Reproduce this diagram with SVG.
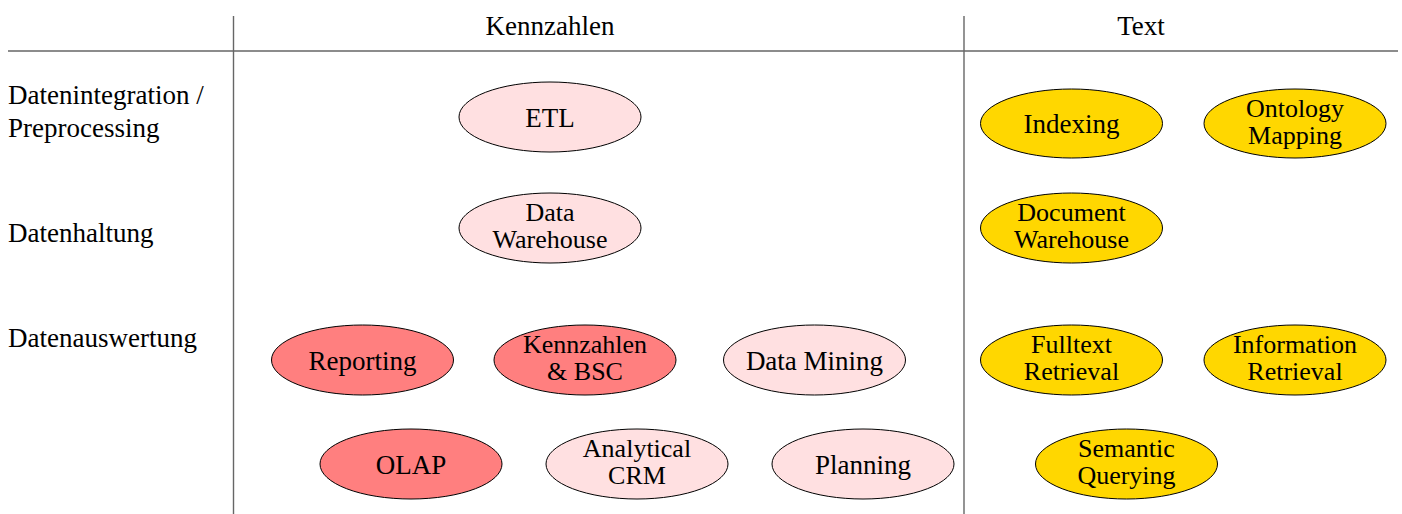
<svg xmlns="http://www.w3.org/2000/svg" width="1402" height="514" viewBox="0 0 1402 514">
<style>
text{font-family:"Liberation Serif","Times New Roman",serif;font-size:27px;fill:#000}
.c{text-anchor:middle}
.t{font-size:26px}
.grid{stroke:#666;stroke-width:1.4;fill:none}
ellipse{stroke:#000;stroke-width:1}
.pk{fill:#ffe0e1}
.rd{fill:#ff7f7f}
.gd{fill:#ffd700}
</style>
<g id="grid">
<line class="grid" x1="8" y1="51" x2="1398" y2="51"/>
<line class="grid" x1="233.5" y1="16" x2="233.5" y2="514"/>
<line class="grid" x1="964" y1="16" x2="964" y2="514"/>
</g>
<g id="headers">
<text class="c" x="550" y="35">Kennzahlen</text>
<text class="c" x="1141" y="35">Text</text>
</g>
<g id="rowlabels">
<text x="8" y="104">Datenintegration /</text>
<text x="8" y="137">Preprocessing</text>
<text x="8" y="242">Datenhaltung</text>
<text x="8" y="347">Datenauswertung</text>
</g>
<g id="connectors"></g>
<g id="etl"><ellipse class="pk" cx="550" cy="117" rx="91" ry="35"/><text class="c" x="550" y="127">ETL</text></g>
<g id="dwh"><ellipse class="pk" cx="550" cy="228" rx="91" ry="35"/><text class="c t" x="550" y="221">Data</text><text class="c t" x="550" y="248">Warehouse</text></g>
<g id="reporting"><ellipse class="rd" cx="362.5" cy="360" rx="91" ry="35"/><text class="c" x="362.5" y="370">Reporting</text></g>
<g id="kennzahlen"><ellipse class="rd" cx="585" cy="360" rx="91" ry="35"/><text class="c t" x="585" y="353">Kennzahlen</text><text class="c t" x="585" y="380">&amp; BSC</text></g>
<g id="datamining"><ellipse class="pk" cx="814.5" cy="360" rx="91" ry="35"/><text class="c" x="814.5" y="370">Data Mining</text></g>
<g id="olap"><ellipse class="rd" cx="411" cy="464" rx="91" ry="35"/><text class="c" x="411" y="474">OLAP</text></g>
<g id="crm"><ellipse class="pk" cx="637" cy="464" rx="91" ry="35"/><text class="c t" x="637" y="457">Analytical</text><text class="c t" x="637" y="484">CRM</text></g>
<g id="planning"><ellipse class="pk" cx="863" cy="464" rx="91" ry="35"/><text class="c" x="863" y="474">Planning</text></g>
<g id="indexing"><ellipse class="gd" cx="1071.5" cy="123.5" rx="91" ry="34.5"/><text class="c" x="1071.5" y="133">Indexing</text></g>
<g id="ontology"><ellipse class="gd" cx="1295" cy="123.5" rx="91" ry="34.5"/><text class="c t" x="1295" y="117">Ontology</text><text class="c t" x="1295" y="144">Mapping</text></g>
<g id="docwh"><ellipse class="gd" cx="1071.5" cy="228" rx="91" ry="35"/><text class="c t" x="1071.5" y="221">Document</text><text class="c t" x="1071.5" y="248">Warehouse</text></g>
<g id="fulltext"><ellipse class="gd" cx="1071.5" cy="360" rx="91" ry="35"/><text class="c t" x="1071.5" y="353">Fulltext</text><text class="c t" x="1071.5" y="380">Retrieval</text></g>
<g id="inforet"><ellipse class="gd" cx="1295" cy="360" rx="91" ry="35"/><text class="c t" x="1295" y="353">Information</text><text class="c t" x="1295" y="380">Retrieval</text></g>
<g id="semantic"><ellipse class="gd" cx="1126.5" cy="464" rx="91" ry="35"/><text class="c t" x="1126.5" y="457">Semantic</text><text class="c t" x="1126.5" y="484">Querying</text></g>
</svg>
